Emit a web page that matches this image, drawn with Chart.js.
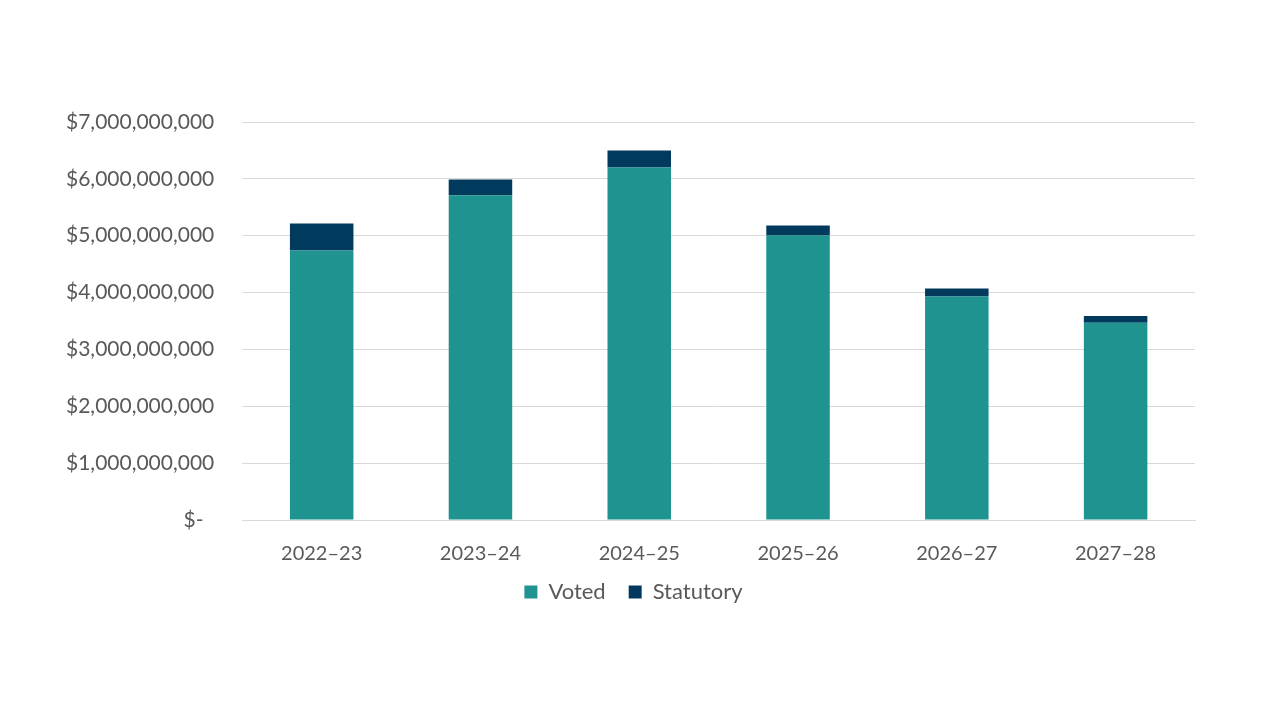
<!DOCTYPE html>
<html>
<head>
<meta charset="utf-8">
<script src="https://cdn.jsdelivr.net/npm/chart.js@4.4.1/dist/chart.umd.min.js"></script>
<style>
  html, body { margin: 0; padding: 0; background: #fff; }
  #wrap { width: 1280px; height: 720px; }
</style>
</head>
<body>
<div id="wrap"><canvas id="grafico"></canvas></div>
<script>
  // data
  var years = ['2022–23', '2023–24', '2024–25', '2025–26', '2026–27', '2027–28'];
  var voted = [4740000000, 5710000000, 6200000000, 5005000000, 3930000000, 3470000000];
  var statutory = [475000000, 280000000, 300000000, 175000000, 140000000, 120000000];
  var yTicks = [0, 1000000000, 2000000000, 3000000000, 4000000000, 5000000000, 6000000000, 7000000000];

  var grey = '#595959';
  var fam = 'Lato, "Open Sans", sans-serif';

  function dinero(v) {
    if (v === 0) return '$-  ';
    return '$' + v.toLocaleString('en-US');
  }

  // move the legend closer to the axis labels and centre it on the page
  var moverLeyenda = {
    id: 'moverLeyenda',
    afterLayout: function(chart) {
      var l = chart.legend;
      l.top -= 22;
      l.bottom -= 22;
      l.left += 17;
      l.right += 17;
    }
  };

  var ctx = document.getElementById('grafico').getContext('2d');
  var chart = new Chart(ctx, {
    type: 'bar',
    data: {
      labels: years,
      datasets: [
        { label: 'Voted', data: voted, backgroundColor: '#1F9390', barPercentage: 0.4, categoryPercentage: 1 },
        { label: 'Statutory', data: statutory, backgroundColor: '#023A5E', barPercentage: 0.4, categoryPercentage: 1 }
      ]
    },
    plugins: [moverLeyenda],
    options: {
      responsive: true,
      maintainAspectRatio: false,
      animation: false,
      layout: { padding: { top: 122, left: 38, right: 85, bottom: 85 } },
      plugins: {
        tooltip: { enabled: false },
        legend: {
          position: 'bottom',
          labels: {
            color: grey,
            font: { family: fam, size: 22 },
            boxWidth: 13,
            boxHeight: 13,
            padding: 23
          }
        }
      },
      scales: {
        x: {
          stacked: true,
          grid: { display: false },
          border: { display: true, color: '#D9D9D9' },
          ticks: { color: grey, font: { family: fam, size: 20 }, padding: 14 }
        },
        y: {
          stacked: true,
          min: 0,
          max: 7000000000,
          afterBuildTicks: function(axis) {
            axis.ticks = yTicks.map(function(v) { return { value: v }; });
          },
          grid: { color: '#D9D9D9', drawTicks: false },
          border: { display: false },
          ticks: { color: grey, font: { family: fam, size: 21 }, padding: 28, callback: dinero }
        }
      }
    }
  });
</script>
</body>
</html>
